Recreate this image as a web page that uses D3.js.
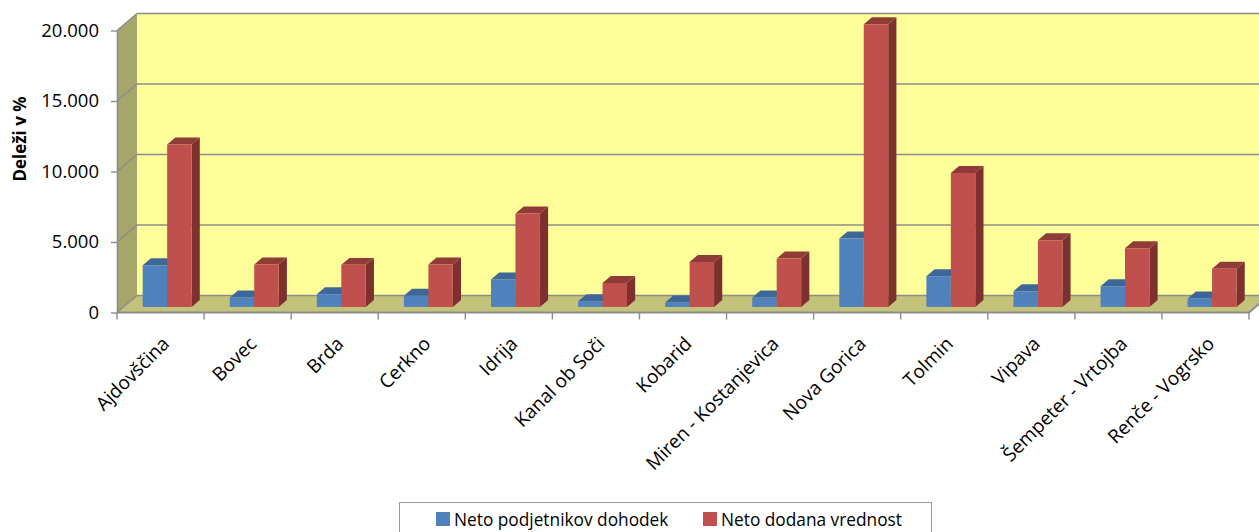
<!DOCTYPE html>
<html>
<head>
<meta charset="utf-8">
<script src="https://cdn.jsdelivr.net/npm/d3@7"></script>
<style>
  html, body { margin: 0; padding: 0; background: #fff; }
  svg { display: block; }
  text { font-family: "Open Sans", sans-serif; fill: #000; }
</style>
</head>
<body>
<svg id="chart" width="1259" height="532"></svg>
<script>
// ---- data ----
const categories = ["Ajdovščina", "Bovec", "Brda", "Cerkno", "Idrija", "Kanal ob Soči", "Kobarid",
  "Miren - Kostanjevica", "Nova Gorica", "Tolmin", "Vipava", "Šempeter - Vrtojba", "Renče - Vogrsko"];
const seriesNames = ["Neto podjetnikov dohodek", "Neto dodana vrednost"];
const netoPodjetnikovDohodek = [2950, 670, 900, 790, 1950, 400, 310, 670, 4850, 2180, 1110, 1470, 600];
const netoDodanaVrednost = [11520, 3000, 2980, 3000, 6620, 1700, 3190, 3430, 20050, 9500, 4730, 4160, 2700];
const yTickValues = [0, 5000, 10000, 15000, 20000];
const yTickLabels = ["0", "5.000", "10.000", "15.000", "20.000"];
const yTitle = "Deleži v %";

// ---- styles ----
const colors = {
  front: ["#4F81BD", "#C0504D"],
  top: ["#3C6797", "#913B38"],
  side: ["#345A86", "#7D302E"]
};
const wallBack = "#FFFF99", wallSide = "#A6A56A", floorCol = "#C3C27B", gridCol = "#8C8C8C";

const svg = d3.select("#chart");
const D = { x: 20, y: -17 };           // depth vector of the 3D box
const f0 = 0.33, f1 = 0.74;           // bar depth range (fractions of box depth)

const yF = d3.scaleLinear().domain([0, 20000]).range([312.5, 30.5]);
const xBand = d3.scaleBand().domain(categories).range([117, 1249]).padding(0);
const xSer = d3.scaleBand().domain(seriesNames).range([0, xBand.bandwidth()])
  .paddingInner(0).paddingOuter(0.78);

const P = (x, v, f) => [x + f * D.x, yF(v) + f * D.y];
const poly = pts => "M" + pts.map(p => p.join(",")).join("L") + "Z";

const [xL, xR] = xBand.range();
const vMax = yF.domain()[1];

// back wall
svg.append("path").attr("d", poly([P(xL, 0, 1), P(xR, 0, 1), P(xR, vMax, 1), P(xL, vMax, 1)]))
  .attr("fill", wallBack);
// side wall
svg.append("path").attr("d", poly([P(xL, 0, 0), P(xL, 0, 1), P(xL, vMax, 1), P(xL, vMax, 0)]))
  .attr("fill", wallSide);
// floor
svg.append("path").attr("d", poly([P(xL, 0, 0), P(xR, 0, 0), P(xR, 0, 1), P(xL, 0, 1)]))
  .attr("fill", floorCol);

// gridlines (back + side)
const grid = svg.append("g").attr("stroke", gridCol).attr("stroke-width", 1.4).attr("fill", "none");
yTickValues.forEach(v => {
  grid.append("path").attr("d", "M" + P(xL, v, 1).join(",") + "L" + P(xR, v, 1).join(","));
  grid.append("path").attr("d", "M" + P(xL, v, 0).join(",") + "L" + P(xL, v, 1).join(","));
});

// bars
const seriesData = [netoPodjetnikovDohodek, netoDodanaVrednost];
const barsG = svg.append("g");
categories.forEach((c, i) => {
  seriesNames.forEach((s, k) => {
    const v = seriesData[k][i];
    const xa = xBand(c) + xSer(s), xb = xa + xSer.bandwidth();
    const g = barsG.append("g");
    g.append("path").attr("d", poly([P(xb, 0, f0), P(xb, 0, f1), P(xb, v, f1), P(xb, v, f0)]))
      .attr("fill", colors.side[k]);
    g.append("path").attr("d", poly([P(xa, v, f0), P(xb, v, f0), P(xb, v, f1), P(xa, v, f1)]))
      .attr("fill", colors.top[k]);
    g.append("path").attr("d", poly([P(xa, 0, f0), P(xb, 0, f0), P(xb, v, f0), P(xa, v, f0)]))
      .attr("fill", colors.front[k]);
  });
});

// floor front edge and right edge
svg.append("path")
  .attr("d", "M" + P(xL, 0, 0).join(",") + "L" + P(xR, 0, 0).join(",") + "L" + P(xR, 0, 1).join(","))
  .attr("stroke", gridCol).attr("stroke-width", 2).attr("fill", "none");

// y axis
const yAxis = d3.axisLeft(yF).tickValues(yTickValues)
  .tickFormat((d, i) => yTickLabels[i]).tickSize(6).tickSizeOuter(0).tickPadding(12);
const ya = svg.append("g").attr("transform", `translate(${xL},0)`).call(yAxis);
ya.select(".domain").attr("stroke", gridCol).attr("stroke-width", 1.6);
ya.selectAll(".tick line").attr("stroke", gridCol).attr("stroke-width", 1.4);
ya.selectAll(".tick text").attr("font-size", "18.5px").attr("font-family", "'Open Sans', sans-serif")
  .attr("fill", "#000");

// x axis ticks at category boundaries
const xTickPos = categories.map(c => xBand(c)).concat([xR]);
svg.append("g").selectAll("line").data(xTickPos).join("line")
  .attr("x1", d => d).attr("x2", d => d).attr("y1", yF(0)).attr("y2", yF(0) + 7)
  .attr("stroke", gridCol).attr("stroke-width", 1.4);

// x labels
svg.append("g").selectAll("text").data(categories).join("text")
  .attr("transform", d => `translate(${xBand(d) + xBand.bandwidth() / 2 + 10},345) rotate(-45)`)
  .attr("text-anchor", "end").attr("font-size", "19px")
  .text(d => d);

// y title
svg.append("text").attr("transform", "translate(26,139) rotate(-90)")
  .attr("text-anchor", "middle").attr("font-size", "17px").attr("font-weight", "bold")
  .text(yTitle);

// legend
const lg = svg.append("g");
lg.append("rect").attr("x", 399.5).attr("y", 502.5).attr("width", 532).attr("height", 40)
  .attr("fill", "#fff").attr("stroke", "#9a9a9a").attr("stroke-width", 1);
const legX = [436, 703];
seriesNames.forEach((s, k) => {
  lg.append("rect").attr("x", legX[k]).attr("y", 512).attr("width", 14).attr("height", 14)
    .attr("fill", colors.front[k]);
  lg.append("text").attr("x", legX[k] + 18).attr("y", 526).attr("font-size", "17.3px").text(s);
});
</script>
</body>
</html>
